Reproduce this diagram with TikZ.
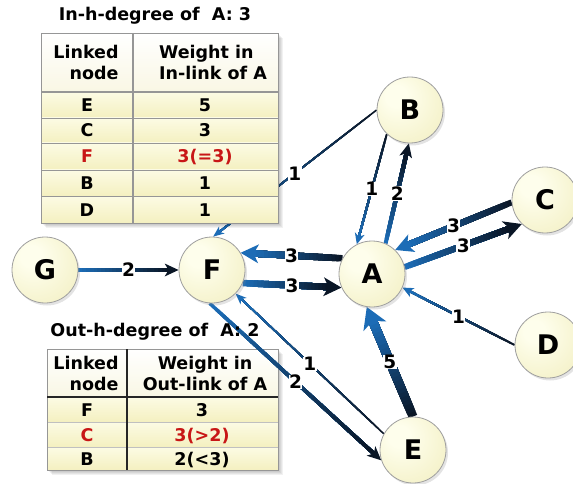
\documentclass[tikz,border=0pt]{standalone}
\usepackage{fontspec}
\setmainfont{DejaVu Sans}
\usetikzlibrary{calc,shadows}

\definecolor{lineblue}{RGB}{28,108,182}
\definecolor{linedark}{RGB}{10,22,38}
\definecolor{nodein}{RGB}{254,254,236}
\definecolor{nodeout}{RGB}{236,231,172}
\definecolor{rowtop}{RGB}{252,251,228}
\definecolor{rowbot}{RGB}{244,240,192}
\definecolor{headbot}{RGB}{249,247,228}
\definecolor{gridgray}{RGB}{150,150,150}
\definecolor{hired}{RGB}{200,22,22}

\pgfdeclareradialshading{nodeshade}{\pgfpoint{-12bp}{12bp}}{%
  color(0bp)=(nodein); color(8bp)=(nodein); color(58bp)=(nodeout); color(70bp)=(nodeout)}

\pgfdeclarelayer{under}
\pgfdeclarelayer{tables}
\pgfdeclarelayer{links}
\pgfsetlayers{under,tables,links,main}

\tikzset{
  gnode/.style={circle, minimum size=66pt, inner sep=0pt, draw=gray!75, line width=0.8pt,
    shade, shading=nodeshade,
    drop shadow={shadow xshift=2pt, shadow yshift=-2.5pt, opacity=0.22},
    font=\bfseries\fontsize{27}{27}\selectfont},
  elabel/.style={fill=white, inner sep=0.4pt, font=\bfseries\fontsize{18.5}{18.5}\selectfont, text=black},
  cell/.style={anchor=base, inner sep=0pt, font=\bfseries\fontsize{17.5}{21}\selectfont},
  headcell/.style={inner sep=0pt, font=\bfseries\fontsize{17.5}{21}\selectfont},
  ttitle/.style={inner sep=0pt, font=\bfseries\fontsize{17.5}{17.5}\selectfont},
}

% weighted link: tail, head, width, tail colour, head colour,
% tip length, tip half width, weight, label name
\newcommand\glink[9]{%
  \coordinate (gT) at (#1);
  \coordinate (gH) at (#2);
  \coordinate (gB) at ($(gH)!#6pt!(gT)$);
  \pgfmathsetmacro\gnotch{0.28*#6}%
  \pgfmathsetmacro\gend{0.28*#6+0.7}%
  \coordinate (gN) at ($(gB)!\gnotch pt!(gH)$);
  \coordinate (gL) at ($(gB)!\gend pt!(gH)$);
  \foreach \i in {0,...,23}{%
    \pgfmathsetmacro\gfrac{\i/24}%
    \pgfmathtruncatemacro\gpct{100-100*\i/23}%
    \draw[line width=#3pt, draw=#4!\gpct!#5] ($(gT)!\gfrac!(gL)$) -- (gL);
  }
  \fill[#5] (gH) -- ($(gB)!#7pt!90:(gH)$) -- (gN) -- ($(gB)!#7pt!-90:(gH)$) -- cycle;
  \path (gT) -- (gH) node[elabel, pos=0.5] (#9) {#8};
}

\begin{document}
\begin{tikzpicture}[x=1pt, y=-1pt]
\useasboundingbox (0,0) rectangle (573,484);

% graph nodes
\node[gnode] (G) at (45,270) {G};
\node[gnode] (F) at (212,270) {F};
\node[gnode] (A) at (372,274) {A};
\node[gnode] (B) at (410,110) {B};
\node[gnode] (C) at (545,200) {C};
\node[gnode] (D) at (548,345) {D};
\node[gnode] (E) at (413,450) {E};

% link from B to F runs behind the in-degree table
\begin{pgfonlayer}{under}
  \glink{B.180}{F.88}{1.6}{linedark}{lineblue}{11}{4.5}{1}{wBF}
\end{pgfonlayer}

% tables
\begin{pgfonlayer}{tables}
  % in-link table
  \foreach \s in {1,...,5}
    \fill[black, opacity=0.055] (41+\s,33+\s) rectangle (278+\s,223+\s);
  \shade[top color=white, bottom color=headbot] (41,33) rectangle (278,92);
  \foreach \ya/\yb in {92/118, 118/143, 143/170, 170/196, 196/223}
    \shade[top color=rowtop, bottom color=rowbot] (41,\ya) rectangle (278,\yb);
  \foreach \yy in {118,143,170,196}
    \draw[gridgray, line width=0.9pt] (41,\yy) -- (278,\yy);
  \draw[gridgray, line width=1.8pt] (41,92) -- (278,92);
  \draw[gridgray, line width=1.6pt] (133,33) -- (133,223);
  \draw[gridgray, line width=0.9pt] (41,33) rectangle (278,223);

  % out-link table
  \foreach \s in {1,...,5}
    \fill[black, opacity=0.055] (47+\s,349+\s) rectangle (278+\s,470+\s);
  \shade[top color=white, bottom color=headbot] (47,349) rectangle (278,397);
  \foreach \ya/\yb in {397/422, 422/447, 447/470}
    \shade[top color=rowtop, bottom color=rowbot] (47,\ya) rectangle (278,\yb);
  \foreach \yy in {422,447}
    \draw[gridgray!60, line width=0.6pt] (47,\yy) -- (278,\yy);
  \draw[gridgray, line width=0.9pt] (47,349) rectangle (278,470);
  \draw[black!85, line width=1.8pt] (47,397) -- (278,397);
  \draw[black!85, line width=1.6pt] (127,349) -- (127,470);
\end{pgfonlayer}

% table texts
\node[ttitle] (inTitle) at (155,16) {In-h-degree of\ \ A: 3};
\node[headcell, align=right] (inHeadA) at (86,62) {Linked\\node};
\node[headcell, align=left] (inHeadB) at (213,62) {Weight in\\In-link of A};
\node[cell] (inE) at (87,111.5) {E};
\node[cell] (inEw) at (205,111.5) {5};
\node[cell] (inC) at (87,137) {C};
\node[cell] (inCw) at (205,137) {3};
\node[cell, text=hired] (inF) at (87,163) {F};
\node[cell, text=hired] (inFw) at (205,163) {3(=3)};
\node[cell] (inB) at (87,189.5) {B};
\node[cell] (inBw) at (205,189.5) {1};
\node[cell] (inD) at (87,216) {D};
\node[cell] (inDw) at (205,216) {1};

\node[ttitle] (outTitle) at (155,332) {Out-h-degree of\ \ A: 2};
\node[headcell, align=right] (outHeadA) at (86,373) {Linked\\node};
\node[headcell, align=center] (outHeadB) at (205,373) {Weight in\\Out-link of A};
\node[cell] (outF) at (87,416) {F};
\node[cell] (outFw) at (202,416) {3};
\node[cell, text=hired] (outC) at (87,441) {C};
\node[cell, text=hired] (outCw) at (202,441) {3(>2)};
\node[cell] (outB) at (87,465) {B};
\node[cell] (outBw) at (202,465) {2(<3)};

% weighted links
\begin{pgfonlayer}{links}
  \glink{B.226}{A.117}{2}{linedark}{lineblue}{11}{5}{1}{wBA}
  \glink{A.66}{B.268}{4}{lineblue}{linedark}{14}{6.5}{2}{wAB}
  \glink{C.184}{A.46}{6}{linedark}{lineblue}{18}{9.5}{3}{wCA}
  \glink{A.12}{C.226}{6}{lineblue}{linedark}{18}{9.5}{3}{wAC}
  \glink{A.152}{F.31}{6.5}{linedark}{lineblue}{18}{9.5}{3}{wAF}
  \glink{F.337}{A.204}{6.5}{lineblue}{linedark}{18}{9.5}{3}{wFA}
  \glink{G.0}{F.180}{3.5}{lineblue}{linedark}{14}{6.5}{2}{wGF}
  \glink{D.180}{A.336}{2}{linedark}{lineblue}{11}{5}{1}{wDA}
  \glink{E.90}{A.261}{9}{linedark}{lineblue}{21}{12.5}{5}{wEA}
  \glink{F.266}{E.198}{3.5}{lineblue}{linedark}{14}{6.5}{2}{wFE}
  \glink{E.151}{F.315}{1.6}{linedark}{lineblue}{11}{4.5}{1}{wEF}
\end{pgfonlayer}
\end{tikzpicture}
\end{document}
